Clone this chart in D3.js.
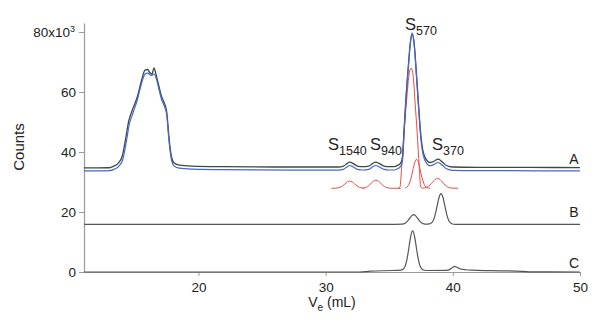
<!DOCTYPE html>
<html>
<head>
<meta charset="utf-8">
<script src="https://cdn.jsdelivr.net/npm/d3@7/dist/d3.min.js"></script>
<style>
  html, body { margin: 0; padding: 0; background: #fff; }
  svg { display: block; font-family: "Liberation Sans", Arial, Helvetica, sans-serif; }
</style>
</head>
<body>
<svg id="chart" width="601" height="323"></svg>
<script>
// ---- data (Ve in mL, Counts in thousands) ----
const xTicks = [20, 30, 40, 50];
const yTicks = [0, 20, 40, 60, 80];
const traceLabels = ["A", "B", "C"];
const peakNames = [["S", "1540"], ["S", "940"], ["S", "570"], ["S", "370"]];

// Trace A (measured, dark)
const traceA = [
  [11.0,34.7],[12.0,34.7],[13.0,34.75],[13.3,35.2],[13.7,36.3],[14.0,38.5],[14.3,45],[14.5,50],
  [14.8,54],[15.2,58.5],[15.5,63.5],[15.8,67.3],[16.0,67.5],[16.2,66.3],[16.35,66.0],[16.5,68.0],
  [16.7,65.2],[16.9,61.8],[17.1,58.5],[17.3,56.5],[17.5,53.5],[17.7,44],[17.9,38],[18.1,36.3],
  [18.5,35.6],[19.5,35.3],[22,35.1],[26,35.0],[31.0,35.0],[31.4,35.3],[31.7,36.2],[31.9,36.6],
  [32.15,36.2],[32.5,35.3],[32.9,35.1],[33.4,35.3],[33.7,36.2],[33.95,36.6],[34.2,36.2],[34.6,35.3],
  [35.0,35.1],[35.4,35.1],[35.6,35.4],[35.9,36.3],[36.05,38.5],[36.15,46],[36.3,57],[36.5,68.5],
  [36.65,76],[36.8,79.3],[36.95,76.5],[37.1,68.5],[37.28,57.3],[37.47,46.3],[37.67,40],[37.94,37.3],
  [38.2,36.5],[38.45,36.8],[38.85,37.6],[39.2,36.6],[39.5,35.5],[40.0,35.0],[42,34.9],[46,34.85],[50,34.8]
];
// Trace A (fitted sum, blue)
const traceAFit = [
  [11.0,33.7],[12.0,33.7],[13.0,33.8],[13.35,34.2],[13.75,35.3],[14.05,37.5],[14.35,44],[14.55,49],
  [14.85,53],[15.2,57.5],[15.5,62.5],[15.8,66.0],[16.0,66.3],[16.3,65.5],[16.5,66.0],[16.7,64.2],
  [16.9,60.8],[17.1,57.5],[17.3,55.5],[17.5,52.5],[17.7,43],[17.9,37],[18.1,35.3],[18.5,34.6],
  [19.5,34.3],[22,34.1],[30,33.95],[31.0,33.95],[31.4,34.2],[31.7,35.1],[31.9,35.5],[32.15,35.1],
  [32.5,34.2],[32.9,34.0],[33.4,34.2],[33.7,35.1],[33.95,35.5],[34.2,35.1],[34.6,34.2],[35.0,34.0],
  [35.4,34.0],[35.6,34.3],[35.9,35.2],[36.05,37.5],[36.15,45],[36.3,56.5],[36.5,68],[36.65,76],
  [36.8,79.7],[36.95,76.5],[37.1,68],[37.28,56.5],[37.47,45.3],[37.67,39],[37.94,36.2],[38.2,35.4],
  [38.45,35.7],[38.85,36.5],[39.2,35.5],[39.5,34.4],[40.0,33.9],[42,33.8],[50,33.7]
];
// Fit components (red)
const fit1540 = [
  [30.45,27.9],[30.76,27.93],[30.95,28.0],[31.14,28.22],[31.33,28.68],[31.52,29.36],[31.71,30.02],
  [31.9,30.3],[32.09,30.02],[32.28,29.36],[32.47,28.68],[32.66,28.22],[32.85,28.0],[33.04,27.93]
];
const fit940 = [
  [32.9,27.93],[33.01,28.02],[33.2,28.27],[33.39,28.78],[33.58,29.54],[33.77,30.28],[33.96,30.6],
  [34.15,30.28],[34.34,29.54],[34.53,28.78],[34.72,28.27],[34.91,28.02],[35.1,27.93],[35.5,27.9],[35.9,27.9]
];
const fit570 = [
  [35.7,27.9],[35.85,28.4],[35.98,35.1],[36.16,46.3],[36.37,57.3],[36.55,65.5],[36.72,68.0],
  [36.88,65.5],[37.02,57.3],[37.2,46.3],[37.36,35.1],[37.47,28.4],[37.6,27.9]
];
const fitShoulder = [
  [36.25,27.95],[36.4,28.33],[36.55,29.21],[36.7,31.05],[36.85,33.78],[37.0,36.46],[37.15,37.6],
  [37.3,36.46],[37.45,33.78],[37.6,31.05],[37.75,29.21],[37.9,28.33],[38.05,28.01],[38.2,27.9]
];
const fit370 = [
  [37.6,27.94],[37.8,28.04],[38.0,28.35],[38.2,28.97],[38.4,29.9],[38.6,30.81],[38.8,31.2],
  [39.0,30.81],[39.2,29.9],[39.4,28.97],[39.6,28.35],[39.8,28.04],[40.0,27.94],[40.4,27.9]
];
// Trace B
const traceB = [
  [11.0,15.9],[30,15.9],[35.5,15.9],[35.96,15.94],[36.12,16.04],[36.28,16.33],[36.44,16.94],[36.6,17.84],
  [36.76,18.72],[36.92,19.1],[37.08,18.72],[37.24,17.84],[37.4,16.94],[37.56,16.33],[37.72,16.04],
  [37.88,15.97],[38.02,15.97],[38.17,16.01],[38.32,16.35],[38.47,17.28],[38.62,19.21],[38.77,22.09],
  [38.92,24.9],[39.07,26.1],[39.22,24.9],[39.37,22.09],[39.52,19.21],[39.67,17.28],[39.82,16.35],
  [39.97,16.01],[40.2,15.9],[45,15.9],[50,15.9]
];
// Trace C
const traceC = [
  [11.0,0],[32.7,0],[33.5,0.3],[35.3,0.5],[35.86,0.6],[36.0,0.7],[36.14,1.1],[36.28,2.3],[36.42,4.8],
  [36.56,8.5],[36.7,12.15],[36.84,13.7],[36.98,12.15],[37.12,8.5],[37.26,4.8],[37.4,2.3],[37.54,1.1],
  [37.68,0.65],[37.9,0.5],[39.5,0.55],[39.75,0.8],[39.95,1.4],[40.15,1.85],[40.35,1.5],[40.6,1.0],
  [41.0,0.75],[41.5,0.6],[43,0.45],[45,0.3],[46,0.05],[50,0]
];

// ---- chart ----
const svg = d3.select("#chart");
const x = d3.scaleLinear().domain([11, 50]).range([84, 580]);
const y = d3.scaleLinear().domain([0, 83]).range([272, 23]);
const font = '"Liberation Sans", Arial, Helvetica, sans-serif';

// axes
const yAxis = svg.append("g").attr("transform", "translate(84,0)")
  .call(d3.axisLeft(y).tickValues(yTicks).tickSize(5).tickSizeOuter(0).tickPadding(3)
    .tickFormat(d => d === 80 ? "80x10" : String(d)));
const xAxis = svg.append("g").attr("transform", "translate(0,272)")
  .call(d3.axisBottom(x).tickValues(xTicks).tickSize(4).tickSizeOuter(0).tickPadding(6));
[yAxis, xAxis].forEach(g => {
  g.select(".domain").attr("stroke", "#9a9a9a").attr("stroke-width", 1.2);
  g.selectAll(".tick line").attr("stroke", "#9a9a9a");
  g.selectAll(".tick text").attr("fill", "#222").style("font-family", font).style("font-size", "13.5px");
});
const top80 = yAxis.selectAll(".tick").filter(d => d === 80).select("text");
top80.attr("x", -9);
top80.append("tspan").attr("dy", "-0.55em").style("font-size", "9px").text("3");

// axis titles
svg.append("text").attr("transform", "translate(18,147) rotate(-90)")
  .attr("text-anchor", "middle").attr("dominant-baseline", "central")
  .style("font-size", "15px").style("font-family", font).attr("fill", "#222").text("Counts");
const xt = svg.append("text").attr("x", 332).attr("y", 307).attr("text-anchor", "middle")
  .style("font-size", "14px").style("font-family", font).attr("fill", "#222");
xt.append("tspan").text("V");
xt.append("tspan").attr("dy", 4).style("font-size", "10px").text("e");
xt.append("tspan").attr("dy", -4).text(" (mL)");

// lines
const line = d3.line().x(d => x(d[0])).y(d => y(d[1])).curve(d3.curveMonotoneX);
const draw = (data, color, w) => svg.append("path").datum(data)
  .attr("d", line).attr("fill", "none").attr("stroke", color).attr("stroke-width", w)
  .attr("stroke-linejoin", "round");

draw(traceC, "#555", 1.2);
draw(traceB, "#555", 1.2);
[fit1540, fit940, fit570, fitShoulder, fit370].forEach(f => draw(f, "#ec4a4a", 1));
draw(traceA, "#3d4a3d", 1.3);
draw(traceAFit, "#4466d6", 1.2);

// trace labels A, B, C
const traceLabelPos = [[574, 164], [574, 217], [574, 268]];
traceLabels.forEach((t, i) => {
  svg.append("text").attr("x", traceLabelPos[i][0]).attr("y", traceLabelPos[i][1])
    .attr("text-anchor", "middle").style("font-size", "14px").style("font-family", font)
    .attr("fill", "#222").text(t);
});

// peak labels
const peakPos = [[328, 150], [370, 150], [405, 30], [432, 150]];
peakNames.forEach((p, i) => {
  const t = svg.append("text").attr("x", peakPos[i][0]).attr("y", peakPos[i][1])
    .style("font-family", font).attr("fill", "#222");
  t.append("tspan").style("font-size", "16.5px").text(p[0]);
  t.append("tspan").attr("dy", 5).style("font-size", "12.5px").text(p[1]);
});
</script>
</body>
</html>
